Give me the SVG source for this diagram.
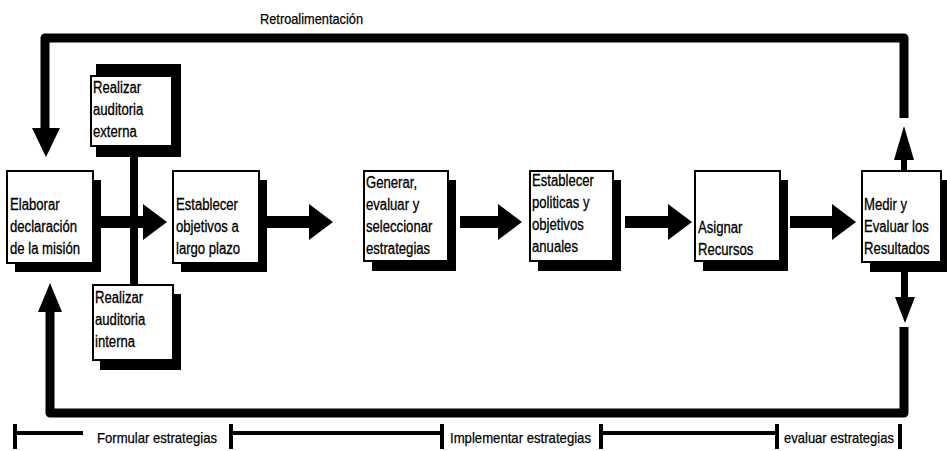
<svg xmlns="http://www.w3.org/2000/svg" width="947" height="451" viewBox="0 0 947 451">
<style>
.sh{fill:#000}
.bx{fill:#fff;stroke:#000;stroke-width:2}
.t{font-family:"Liberation Sans",Arial,sans-serif;font-size:16px;fill:#000;stroke:#000;stroke-width:0.3}
.lb{font-family:"Liberation Sans",Arial,sans-serif;font-size:15px;fill:#000;stroke:#000;stroke-width:0.25}
.ln{fill:none;stroke:#000;stroke-width:9;stroke-linejoin:round}
.tl{fill:none;stroke:#000;stroke-width:4}
.ar{fill:#000}
</style>
<rect width="947" height="451" fill="#fff"/>
<g id="connectors">
  <polyline class="ln" points="904,118 904,38 45,38 45,130"/>
  <polygon class="ar" points="32,128 60,128 46,157"/>
  <polyline class="ln" points="904,327 904,413 50,413 50,310"/>
  <polygon class="ar" points="38,312 62,312 50,283"/>
  <rect class="ar" x="130" y="155" width="8" height="132"/>
  <polygon class="ar" points="101,216 143,216 143,204 167,222 143,240 143,228 101,228"/>
  <polygon class="ar" points="267,216 309,216 309,204 333,222 309,240 309,228 267,228"/>
  <polygon class="ar" points="460,216 498,216 498,204 522,222 498,240 498,228 460,228"/>
  <polygon class="ar" points="625,216 668,216 668,204 692,222 668,240 668,228 625,228"/>
  <polygon class="ar" points="790,216 832,216 832,204 856,222 832,240 832,228 790,228"/>
  <polygon class="ar" points="901,172 901,160 894,160 904,126 914,160 907,160 907,172"/>
  <polygon class="ar" points="901,271 901,297 895,297 905,323 915,297 908,297 908,271"/>
</g>
<g id="n-elaborar">
  <rect class="sh" x="15" y="180" width="86" height="92"/>
  <rect class="bx" x="7" y="171" width="86" height="92"/>
  <text class="t" transform="translate(10 0) scale(0.82 1)"><tspan x="0" y="210">Elaborar</tspan><tspan x="0" y="232">declaración</tspan><tspan x="0" y="254">de la misión</tspan></text>
</g>
<g id="n-externa">
  <rect class="sh" x="96" y="64" width="85" height="93"/>
  <rect class="bx" x="91" y="76" width="81" height="70"/>
  <text class="t" transform="translate(93 0) scale(0.82 1)"><tspan x="0" y="93">Realizar</tspan><tspan x="0" y="115">auditoria</tspan><tspan x="0" y="137">externa</tspan></text>
</g>
<g id="n-interna">
  <rect class="sh" x="100" y="294" width="81" height="76"/>
  <rect class="bx" x="93" y="285" width="80" height="75"/>
  <text class="t" transform="translate(95 0) scale(0.82 1)"><tspan x="0" y="303">Realizar</tspan><tspan x="0" y="325">auditoria</tspan><tspan x="0" y="347">interna</tspan></text>
</g>
<g id="n-objetivos">
  <rect class="sh" x="181" y="180" width="86" height="92"/>
  <rect class="bx" x="173" y="171" width="86" height="92"/>
  <text class="t" transform="translate(176 0) scale(0.82 1)"><tspan x="0" y="210">Establecer</tspan><tspan x="0" y="232">objetivos a</tspan><tspan x="0" y="254">largo plazo</tspan></text>
</g>
<g id="n-estrategias">
  <rect class="sh" x="372" y="180" width="84" height="91"/>
  <rect class="bx" x="364" y="171" width="84" height="90"/>
  <text class="t" transform="translate(366 0) scale(0.82 1)"><tspan x="0" y="188">Generar,</tspan><tspan x="0" y="210">evaluar y</tspan><tspan x="0" y="232">seleccionar</tspan><tspan x="0" y="254">estrategias</tspan></text>
</g>
<g id="n-politicas">
  <rect class="sh" x="538" y="180" width="83" height="91"/>
  <rect class="bx" x="530" y="171" width="83" height="90"/>
  <text class="t" transform="translate(532 0) scale(0.82 1)"><tspan x="0" y="186">Establecer</tspan><tspan x="0" y="208">politicas y</tspan><tspan x="0" y="230">objetivos</tspan><tspan x="0" y="252">anuales</tspan></text>
</g>
<g id="n-recursos">
  <rect class="sh" x="703" y="180" width="85" height="91"/>
  <rect class="bx" x="695" y="171" width="85" height="90"/>
  <text class="t" transform="translate(698 0) scale(0.82 1)"><tspan x="0" y="233">Asignar</tspan><tspan x="0" y="255">Recursos</tspan></text>
</g>
<g id="n-medir">
  <rect class="sh" x="870" y="180" width="85" height="92"/>
  <rect class="bx" x="862" y="171" width="79" height="91"/>
  <text class="t" transform="translate(864 0) scale(0.82 1)"><tspan x="0" y="210">Medir y</tspan><tspan x="0" y="232">Evaluar los</tspan><tspan x="0" y="254">Resultados</tspan></text>
</g>
<g id="labels">
  <text class="lb" x="260" y="24" textLength="103" lengthAdjust="spacingAndGlyphs">Retroalimentación</text>
  <line class="tl" x1="15" y1="424" x2="15" y2="449"/>
  <line class="tl" x1="15" y1="433" x2="83" y2="433"/>
  <text class="lb" x="97" y="443" textLength="120" lengthAdjust="spacingAndGlyphs">Formular estrategias</text>
  <line class="tl" x1="231" y1="424" x2="231" y2="449"/>
  <line class="tl" x1="231" y1="433" x2="442" y2="433"/>
  <line class="tl" x1="442" y1="424" x2="442" y2="449"/>
  <text class="lb" x="450" y="443" textLength="141" lengthAdjust="spacingAndGlyphs">Implementar estrategias</text>
  <line class="tl" x1="601" y1="424" x2="601" y2="449"/>
  <line class="tl" x1="601" y1="433" x2="777" y2="433"/>
  <line class="tl" x1="777" y1="424" x2="777" y2="449"/>
  <text class="lb" x="784" y="443" textLength="110" lengthAdjust="spacingAndGlyphs">evaluar estrategias</text>
  <line class="tl" x1="900" y1="424" x2="900" y2="449"/>
</g>
</svg>
